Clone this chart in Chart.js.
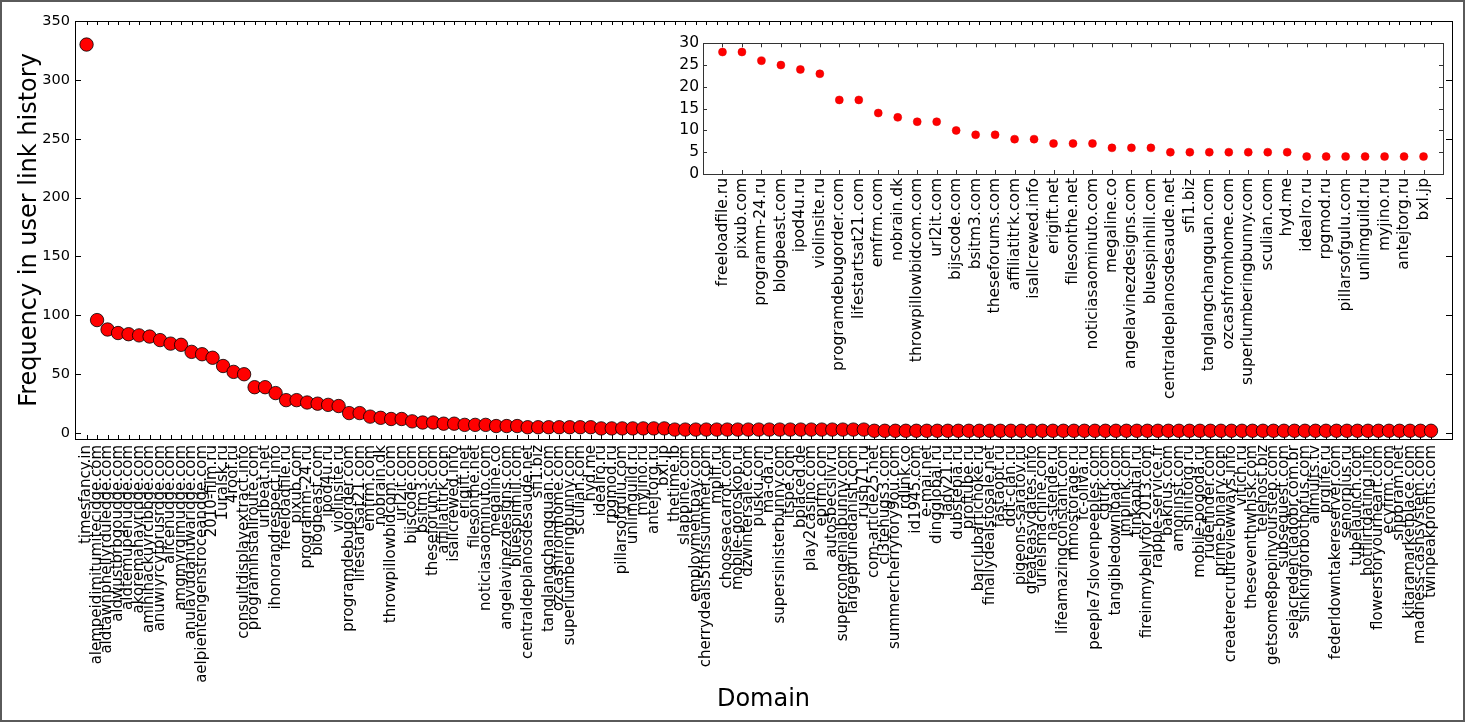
<!DOCTYPE html>
<html>
<head>
<meta charset="utf-8">
<script src="https://cdn.jsdelivr.net/npm/chart.js@4.4.1/dist/chart.umd.min.js"></script>
<style>
  body { margin: 0; background: #fff; }
  #wrap { position: relative; width: 1465px; height: 722px; }
  #main { position: absolute; left: 0; top: 0; }
  #inset { position: absolute; left: 620px; top: 30px; }
</style>
</head>
<body>
<div id="wrap">
  <canvas id="main" width="1465" height="722"></canvas>
  <canvas id="inset" width="835" height="390"></canvas>
</div>
<script>
const domains = [
  "timesfancy.in", "alempeidimitumitecidge.com", "aldtawnphellyrduledge.com", "aldwustbrbgoudge.com",
  "aldtemupenudge.com", "akoremahayridge.com", "amihihackuyrcibbge.com", "anuwiyrcytprusrdge.com",
  "alicenudge.com", "amgmyrgimudge.com", "anulavudanuwaridge.com", "aelpientengenstroceandge.com",
  "2010-film.ru", "1uralsk.ru", "4roof.ru", "consultdisplayextract.info", "programinstallroute.com",
  "urlbeat.net", "ihonorandrespect.info", "freeloadfile.ru", "pixub.com", "programm-24.ru",
  "blogbeast.com", "ipod4u.ru", "violinsite.ru", "programdebugorder.com", "lifestartsat21.com",
  "emfrm.com", "nobrain.dk", "throwpillowbidcom.com", "url2it.com", "bijscode.com", "bsitm3.com",
  "theseforums.com", "affiliatitrk.com", "isallcrewed.info", "erigift.net", "filesonthe.net",
  "noticiasaominuto.com", "megaline.co", "angelavinezdesigns.com", "bluespinhill.com",
  "centraldeplanosdesaude.net", "sfi1.biz", "tanglangchangquan.com", "ozcashfromhome.com",
  "superlumberingbunny.com", "sculian.com", "hyd.me", "idealro.ru", "rpgmod.ru", "pillarsofgulu.com",
  "unlimguild.ru", "myjino.ru", "antejtorg.ru", "bxl.jp", "thetime.lb", "slappine.com",
  "employmentpay.com", "cherrydeals5thissummer.com", "mplff.ru", "chooseacarrot.com",
  "mobile-goroskop.ru", "dzwintersale.com", "pusku.com", "ma-da.ru", "supersinisterbunny.com",
  "itspe.com", "bplaced.de", "play2casino.com", "eprfm.com", "autosbecsliv.ru",
  "supercongenialbunny.com", "largeprunedanish.com", "rush71.ru", "com-article25.net",
  "cl3tehugs3.com", "summercherryfory9ou.com", "rdlink.co", "id1945.com", "e-mai.net",
  "dingglobal.ru", "lady21.ru", "dubstepia.ru", "proftube.ru", "barclubartichoke.ru",
  "finallydealstosale.net", "fastaopt.ru", "ddt-clan.ru", "pigeons-saratov.ru", "greateasydates.info",
  "urielsmachine.com", "na-stende.ru", "lifeamazingconstant.com", "mmostorage.ru", "fc-oliva.ru",
  "peeple7slovenpeeples.com", "cgtrk.com", "tangibledownload.com", "jmplink.com", "tinkapital.ru",
  "fireinmybellyfor2013.com", "rapple-service.fr", "baknus.com", "amoninst.com", "shinitorg.ru",
  "mobile-pogoda.ru", "rudefinder.com", "prime-binary.com", "createrecruitreviewways.info",
  "vitich.ru", "theseventhwhisk.com", "telehost.biz", "getsome8pepinyourstep.com", "subsequest.com",
  "sejacredenciadobr.com.br", "sinkingforbothofus.com", "allmults.tv", "prglife.ru",
  "federldowntakereserver.com", "senorplus.ru", "tubelaunch.com", "hotflirtdating.info",
  "flowersforyourheart.com", "ecyfrm.com", "shpbram.net", "kitaramarketplace.com",
  "madness-cashsystem.com", "twinpeakprofits.com"
];

const frequency = [
  330, 96, 88, 85, 84, 83, 82, 79, 76, 75, 69, 67, 64, 57, 52, 50, 39, 39, 34, 28,
  28, 26, 25, 24, 23, 17, 17, 14, 13, 12, 12, 10, 9, 9, 8, 8, 7, 7, 7, 6,
  6, 6, 5, 5, 5, 5, 5, 5, 5, 4, 4, 4, 4, 4, 4, 4, 3, 3, 3, 3,
  3, 3, 3, 3, 3, 3, 3, 3, 3, 3, 3, 3, 3, 3, 3, 2, 2, 2, 2, 2,
  2, 2, 2, 2, 2, 2, 2, 2, 2, 2, 2, 2, 2, 2, 2, 2, 2, 2, 2, 2,
  2, 2, 2, 2, 2, 2, 2, 2, 2, 2, 2, 2, 2, 2, 2, 2, 2, 2, 2, 2,
  2, 2, 2, 2, 2, 2, 2, 2, 2
];

const yTicksMain = [0, 50, 100, 150, 200, 250, 300, 350];

const insetDomains = [
  "freeloadfile.ru", "pixub.com", "programm-24.ru", "blogbeast.com", "ipod4u.ru", "violinsite.ru",
  "programdebugorder.com", "lifestartsat21.com", "emfrm.com", "nobrain.dk", "throwpillowbidcom.com",
  "url2it.com", "bijscode.com", "bsitm3.com", "theseforums.com", "affiliatitrk.com",
  "isallcrewed.info", "erigift.net", "filesonthe.net", "noticiasaominuto.com", "megaline.co",
  "angelavinezdesigns.com", "bluespinhill.com", "centraldeplanosdesaude.net", "sfi1.biz",
  "tanglangchangquan.com", "ozcashfromhome.com", "superlumberingbunny.com", "sculian.com",
  "hyd.me", "idealro.ru", "rpgmod.ru", "pillarsofgulu.com", "unlimguild.ru", "myjino.ru",
  "antejtorg.ru", "bxl.jp"
];

const insetFrequency = [
  28, 28, 26, 25, 24, 23, 17, 17, 14, 13, 12, 12, 10, 9, 9, 8, 8, 7, 7, 7,
  6, 6, 6, 5, 5, 5, 5, 5, 5, 5, 4, 4, 4, 4, 4, 4, 4
];

const yTicksInset = [0, 5, 10, 15, 20, 25, 30];

const FONT = "'DejaVu Sans', sans-serif";

// box around the plot plus inward ticks on every side, like matplotlib
const frame = {
  id: 'frame',
  beforeDatasetsDraw(chart, args, opts) {
    const { ctx, chartArea: a, scales } = chart;
    ctx.save();
    ctx.strokeStyle = opts.color || '#000';
    ctx.lineWidth = 1;
    ctx.beginPath();
    scales.x.ticks.forEach(t => {
      const px = Math.round(scales.x.getPixelForValue(t.value)) + 0.5;
      ctx.moveTo(px, a.bottom); ctx.lineTo(px, a.bottom - opts.xLen);
      ctx.moveTo(px, a.top); ctx.lineTo(px, a.top + opts.xLen);
    });
    scales.y.ticks.forEach(t => {
      const py = Math.round(scales.y.getPixelForValue(t.value)) + 0.5;
      ctx.moveTo(a.left, py); ctx.lineTo(a.left + opts.yLen, py);
      ctx.moveTo(a.right, py); ctx.lineTo(a.right - opts.yLen, py);
    });
    ctx.stroke();
    ctx.strokeRect(Math.round(a.left) + 0.5, Math.round(a.top) + 0.5,
                   Math.round(a.width), Math.round(a.height));
    ctx.restore();
  },
  afterDraw(chart, args, opts) {
    if (!opts.outer) return;
    const ctx = chart.ctx;
    ctx.save();
    ctx.strokeStyle = '#5a5a5a';
    ctx.lineWidth = 2;
    ctx.strokeRect(1, 1, chart.width - 2, chart.height - 2);
    ctx.restore();
  }
};

new Chart(document.getElementById('main'), {
  type: 'scatter',
  data: {
    datasets: [{
      data: frequency.map((v, i) => ({ x: i, y: v })),
      pointRadius: 6.7,
      pointHoverRadius: 6.7,
      pointBackgroundColor: '#ff0000',
      pointBorderColor: '#000',
      pointBorderWidth: 0.8
    }]
  },
  options: {
    responsive: false,
    animation: false,
    events: [],
    layout: { padding: { top: 21, right: 13, left: 0, bottom: 0 } },
    plugins: {
      legend: { display: false },
      tooltip: { enabled: false },
      frame: { xLen: 4, yLen: 6, outer: true }
    },
    scales: {
      x: {
        type: 'linear',
        min: -1.1,
        max: 130,
        afterBuildTicks: s => { s.ticks = domains.map((d, i) => ({ value: i })); },
        afterFit: s => { s.height = 283; },
        grid: { display: false, drawTicks: false },
        border: { display: false },
        ticks: {
          autoSkip: false,
          minRotation: 90,
          maxRotation: 90,
          padding: 6,
          color: '#000',
          font: { family: FONT, size: 15 },
          callback: v => domains[v]
        },
        title: {
          display: true,
          text: 'Domain',
          color: '#000',
          font: { family: FONT, size: 24 },
          padding: { top: 0, bottom: 8 }
        }
      },
      y: {
        min: -5,
        max: 350,
        afterBuildTicks: s => { s.ticks = yTicksMain.map(v => ({ value: v })); },
        afterFit: s => { s.width = 75; },
        grid: { display: false, drawTicks: false },
        border: { display: false },
        ticks: {
          padding: 5,
          color: '#000',
          font: { family: FONT, size: 14.5 }
        },
        title: {
          display: true,
          text: 'Frequency in user link history',
          color: '#000',
          font: { family: FONT, size: 24 },
          padding: { top: 15, bottom: 0 }
        }
      }
    }
  },
  plugins: [frame]
});

new Chart(document.getElementById('inset'), {
  type: 'scatter',
  data: {
    datasets: [{
      data: insetFrequency.map((v, i) => ({ x: i, y: v })),
      pointRadius: 4,
      pointHoverRadius: 4,
      pointBackgroundColor: '#ff0000',
      pointBorderColor: '#dd0000',
      pointBorderWidth: 0.5
    }]
  },
  options: {
    responsive: false,
    animation: false,
    events: [],
    layout: { padding: { top: 11, right: 12, left: 0, bottom: 0 } },
    plugins: {
      legend: { display: false },
      tooltip: { enabled: false },
      frame: { xLen: 4, yLen: 4, color: '#333' }
    },
    scales: {
      x: {
        type: 'linear',
        min: -1,
        max: 37,
        afterBuildTicks: s => { s.ticks = insetDomains.map((d, i) => ({ value: i })); },
        afterFit: s => { s.height = 246; },
        grid: { display: false, drawTicks: false },
        border: { display: false },
        ticks: {
          autoSkip: false,
          minRotation: 90,
          maxRotation: 90,
          padding: 4,
          color: '#000',
          font: { family: FONT, size: 15.5 },
          callback: v => insetDomains[v]
        }
      },
      y: {
        min: 0,
        max: 30,
        afterBuildTicks: s => { s.ticks = yTicksInset.map(v => ({ value: v })); },
        afterFit: s => { s.width = 83; },
        grid: { display: false, drawTicks: false },
        border: { display: false },
        ticks: {
          padding: 4,
          color: '#000',
          font: { family: FONT, size: 15.5 }
        }
      }
    }
  },
  plugins: [frame]
});
</script>
</body>
</html>
